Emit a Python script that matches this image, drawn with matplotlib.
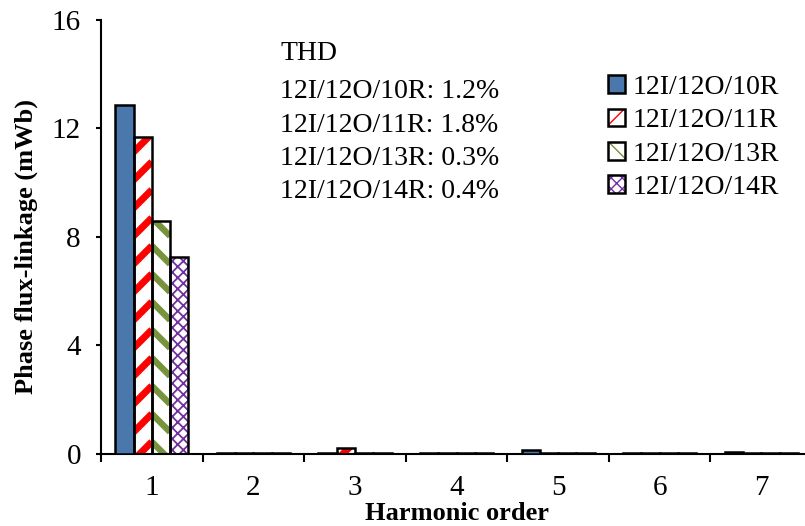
import matplotlib
matplotlib.use("Agg")
import matplotlib.pyplot as plt
from matplotlib.patches import Rectangle
from matplotlib.legend_handler import HandlerTuple
import numpy as np

plt.rcParams['font.family'] = ['Liberation Serif', 'DejaVu Serif']

harmonics = [1, 2, 3, 4, 5, 6, 7]
series_names = ['12I/12O/10R', '12I/12O/11R', '12I/12O/13R', '12I/12O/14R']
flux_10R = [12.87, 0.02, 0.03, 0.02, 0.15, 0.02, 0.06]
flux_11R = [11.67, 0.02, 0.22, 0.02, 0.02, 0.02, 0.02]
flux_13R = [8.60, 0.02, 0.02, 0.02, 0.02, 0.02, 0.02]
flux_14R = [7.27, 0.02, 0.02, 0.02, 0.02, 0.02, 0.02]
thd_values = ['1.2%', '1.8%', '0.3%', '0.4%']

series = [flux_10R, flux_11R, flux_13R, flux_14R]
fills = ['#4a78ad', 'white', 'white', 'white']
pattern_colors = [None, '#ff0000', '#77933c', '#7030a0']
# stripe style: (direction, line width in pt) for striped fills, None otherwise
stripes = [None, (+1, 5.0), (-1, 4.6), None]
legend_hatch = [None, '/', '\\', 'xxx']

fig_w, fig_h = 8.05, 5.26
fig = plt.figure(figsize=(fig_w, fig_h), dpi=100)
ax_pos = [0.1255, 0.137, 0.8832, 0.825]
ax = fig.add_axes(ax_pos)

xlim = (0.5, 7.5)
ylim = (0, 16)
ax.set_xlim(*xlim)
ax.set_ylim(*ylim)

# pixel scale of the data axes, used to lay diagonal stripes at 45 degrees
px_x = ax_pos[2] * fig_w * 100 / (xlim[1] - xlim[0])
px_y = ax_pos[3] * fig_h * 100 / (ylim[1] - ylim[0])
stripe_gap_px = 28.0


def add_stripes(patch, direction, color, lw):
    x0, y0 = patch.get_x(), patch.get_y()
    bw, bh = patch.get_width(), patch.get_height()
    if bh <= 0:
        return
    slope = px_x / px_y  # data-y per data-x for a 45 degree line
    rise = bw * slope
    gap = stripe_gap_px / px_y
    start = y0 - rise / 2 + 3 / px_y - gap * np.ceil((rise / 2) / gap + 1)
    for c in np.arange(start, y0 + bh + gap, gap):
        xs = np.array([x0, x0 + bw])
        if direction > 0:
            ys = np.array([c, c + rise])
        else:
            ys = np.array([c + rise, c])
        ln, = ax.plot(xs, ys, color=color, lw=lw, solid_capstyle='butt', zorder=2.5)
        ln.set_clip_path(patch)


x = np.arange(len(harmonics)) + 1
w = 0.18
offsets = (np.arange(4) - 1.5) * w
legend_handles = []
for i, vals in enumerate(series):
    pos = x + offsets[i]
    if pattern_colors[i] is None:
        ax.bar(pos, vals, w, color=fills[i], edgecolor='black', linewidth=1.8, zorder=3)
        legend_handles.append(Rectangle((0, 0), 1, 1, facecolor=fills[i], edgecolor='black', linewidth=1.8))
        continue
    if stripes[i] is not None:
        base = ax.bar(pos, vals, w, color='white', linewidth=0, zorder=2)
        for p in base:
            add_stripes(p, stripes[i][0], pattern_colors[i], stripes[i][1])
    else:
        with plt.rc_context({'hatch.linewidth': 1.3}):
            base = ax.bar(pos, vals, w, color='white', edgecolor=pattern_colors[i], hatch='xxx',
                          linewidth=0, zorder=2)
            for p in base:
                if hasattr(p, 'set_hatch_linewidth'):
                    p.set_hatch_linewidth(1.3)
    ax.bar(pos, vals, w, fill=False, edgecolor='black', linewidth=1.8, zorder=3)
    with plt.rc_context({'hatch.linewidth': 2.5 if stripes[i] else 1.3}):
        hp = Rectangle((0, 0), 1, 1, facecolor='white', edgecolor=pattern_colors[i],
                       hatch=legend_hatch[i], linewidth=0)
    if hasattr(hp, 'set_hatch_linewidth'):
        hp.set_hatch_linewidth(2.5 if stripes[i] else 1.3)
    op = Rectangle((0, 0), 1, 1, fill=False, edgecolor='black', linewidth=1.8)
    legend_handles.append((hp, op))

ax.set_yticks([0, 4, 8, 12, 16])
ax.set_xticks(x)
ax.set_xticklabels([str(h) for h in harmonics])
ax.set_xticks(np.arange(0.5, 8.0, 1.0), minor=True)
ax.tick_params(axis='x', which='major', length=0, labelsize=21, pad=15)
ax.tick_params(axis='x', which='minor', length=6, width=1.5, direction='out')
ax.tick_params(axis='y', which='major', length=3.5, width=1.5, direction='out', labelsize=21, pad=11)
for s in ['top', 'right']:
    ax.spines[s].set_visible(False)
for s in ['left', 'bottom']:
    ax.spines[s].set_linewidth(1.5)

ax.set_ylabel('Phase flux-linkage (mWb)', fontsize=19, fontweight='bold', labelpad=10)
ax.yaxis.label.set_y(0.477)
ax.set_xlabel('Harmonic order', fontsize=19, fontweight='bold', labelpad=1)

ax.text(280 / 805, 1 - 53 / 526, 'THD', transform=fig.transFigure, fontsize=20, va='center', ha='left')
for i, (name, thd) in enumerate(zip(series_names, thd_values)):
    ax.text(280 / 805, 1 - (92 + 33.3 * i) / 526, f'{name}: {thd}', transform=fig.transFigure,
            fontsize=20, va='center', ha='left')

ax.legend(legend_handles, series_names, handler_map={tuple: HandlerTuple(ndivide=1, pad=0)},
          loc='upper left', bbox_to_anchor=(608 / 805, 1 - 75 / 526), bbox_transform=fig.transFigure,
          frameon=False, fontsize=20, handlelength=0.6, handleheight=0.6, handletextpad=0.3,
          labelspacing=0.3, borderpad=0, borderaxespad=0)

fig.savefig('out.png', dpi=100)
